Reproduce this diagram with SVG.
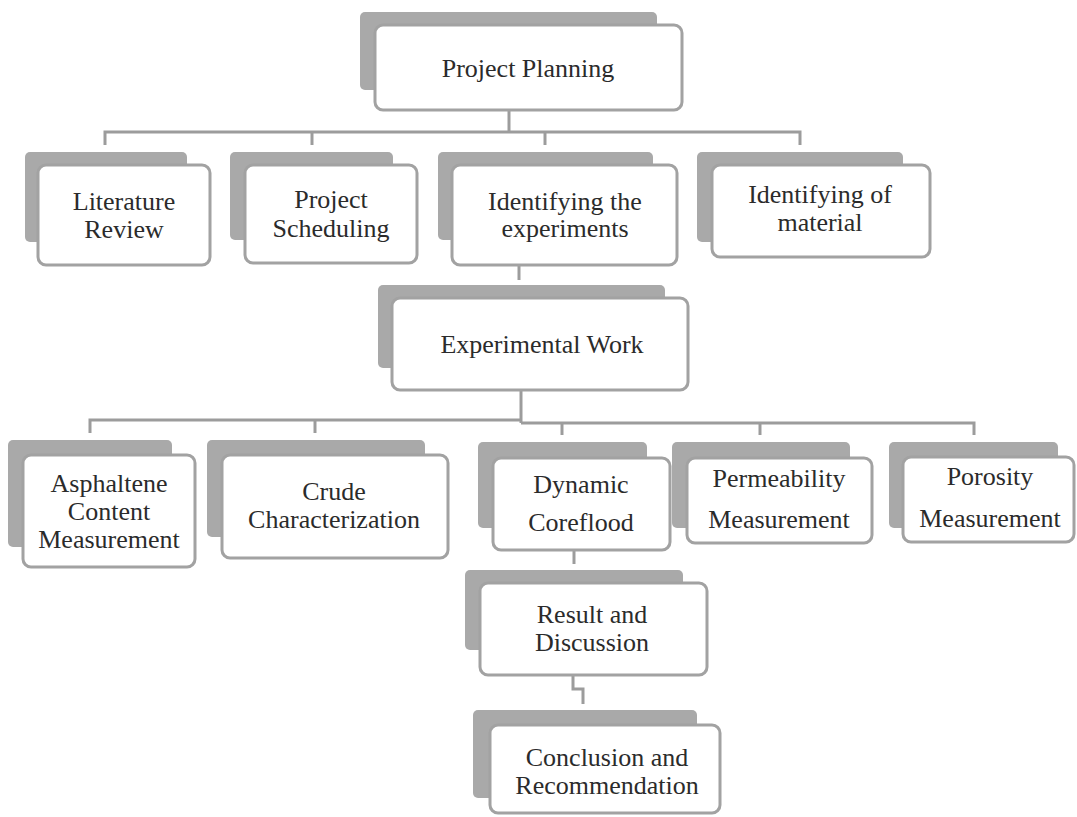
<svg xmlns="http://www.w3.org/2000/svg" width="1077" height="817" viewBox="0 0 1077 817">
  <style>
    .shadow { fill: #a9a9a9; }
    .box { fill: #ffffff; stroke: #a2a2a2; stroke-width: 3; }
    .label { font-family: "Liberation Serif", "Times New Roman", serif; font-size: 26px; fill: #2b2b2b; text-anchor: middle; }
    .link { fill: none; stroke: #9c9c9c; stroke-width: 3; }
  </style>
  <rect width="1077" height="817" fill="#ffffff"/>

  <!-- connectors -->
  <g id="connectors">
    <path class="link" d="M509 110 V132"/>
    <path class="link" d="M105 145 V132 H800 V145"/>
    <path class="link" d="M312 132 V145"/>
    <path class="link" d="M545 132 V145"/>
    <path class="link" d="M519 265 V280"/>
    <path class="link" d="M521 390 V423"/>
    <path class="link" d="M90 433 V420 H521"/>
    <path class="link" d="M521 423 H974 V435"/>
    <path class="link" d="M315 420 V433"/>
    <path class="link" d="M562 423 V435"/>
    <path class="link" d="M760 423 V435"/>
    <path class="link" d="M574 550 V564"/>
    <path class="link" d="M573 675 V689 H583 V704"/>
  </g>

  <g id="project-planning">
    <rect class="shadow" x="360" y="12" width="297" height="78" rx="5"/>
    <rect class="box" x="375" y="25" width="307" height="85" rx="8"/>
    <text class="label" x="528" y="77">Project Planning</text>
  </g>

  <g id="literature-review">
    <rect class="shadow" x="25" y="152" width="162" height="90" rx="5"/>
    <rect class="box" x="38" y="165" width="172" height="100" rx="8"/>
    <text class="label" x="124" y="210">Literature</text>
    <text class="label" x="124" y="238">Review</text>
  </g>

  <g id="project-scheduling">
    <rect class="shadow" x="230" y="152" width="163" height="88" rx="5"/>
    <rect class="box" x="245" y="165" width="172" height="98" rx="8"/>
    <text class="label" x="331" y="208">Project</text>
    <text class="label" x="331" y="237">Scheduling</text>
  </g>

  <g id="identifying-experiments">
    <rect class="shadow" x="438" y="152" width="215" height="88" rx="5"/>
    <rect class="box" x="452" y="165" width="225" height="100" rx="8"/>
    <text class="label" x="565" y="210">Identifying the</text>
    <text class="label" x="565" y="237">experiments</text>
  </g>

  <g id="identifying-material">
    <rect class="shadow" x="697" y="152" width="206" height="90" rx="5"/>
    <rect class="box" x="712" y="165" width="218" height="92" rx="8"/>
    <text class="label" x="820" y="203">Identifying of</text>
    <text class="label" x="820" y="231">material</text>
  </g>

  <g id="experimental-work">
    <rect class="shadow" x="378" y="285" width="287" height="83" rx="5"/>
    <rect class="box" x="392" y="298" width="296" height="92" rx="8"/>
    <text class="label" x="542" y="353">Experimental Work</text>
  </g>

  <g id="asphaltene-content">
    <rect class="shadow" x="8" y="440" width="164" height="107" rx="5"/>
    <rect class="box" x="23" y="455" width="172" height="112" rx="8"/>
    <text class="label" x="109" y="492">Asphaltene</text>
    <text class="label" x="109" y="520">Content</text>
    <text class="label" x="109" y="548">Measurement</text>
  </g>

  <g id="crude-characterization">
    <rect class="shadow" x="207" y="440" width="218" height="97" rx="5"/>
    <rect class="box" x="222" y="455" width="226" height="103" rx="8"/>
    <text class="label" x="334" y="500">Crude</text>
    <text class="label" x="334" y="528">Characterization</text>
  </g>

  <g id="dynamic-coreflood">
    <rect class="shadow" x="478" y="442" width="169" height="86" rx="5"/>
    <rect class="box" x="493" y="458" width="177" height="92" rx="8"/>
    <text class="label" x="581" y="493">Dynamic</text>
    <text class="label" x="581" y="531">Coreflood</text>
  </g>

  <g id="permeability-measurement">
    <rect class="shadow" x="672" y="442" width="178" height="86" rx="5"/>
    <rect class="box" x="687" y="458" width="185" height="85" rx="8"/>
    <text class="label" x="779" y="487">Permeability</text>
    <text class="label" x="779" y="528">Measurement</text>
  </g>

  <g id="porosity-measurement">
    <rect class="shadow" x="889" y="442" width="169" height="86" rx="5"/>
    <rect class="box" x="903" y="457" width="171" height="85" rx="8"/>
    <text class="label" x="990" y="485">Porosity</text>
    <text class="label" x="990" y="527">Measurement</text>
  </g>

  <g id="result-discussion">
    <rect class="shadow" x="465" y="570" width="218" height="80" rx="5"/>
    <rect class="box" x="480" y="583" width="227" height="92" rx="8"/>
    <text class="label" x="592" y="623">Result and</text>
    <text class="label" x="592" y="651">Discussion</text>
  </g>

  <g id="conclusion-recommendation">
    <rect class="shadow" x="473" y="710" width="224" height="88" rx="5"/>
    <rect class="box" x="490" y="725" width="230" height="88" rx="8"/>
    <text class="label" x="607" y="766">Conclusion and</text>
    <text class="label" x="607" y="794">Recommendation</text>
  </g>
</svg>
